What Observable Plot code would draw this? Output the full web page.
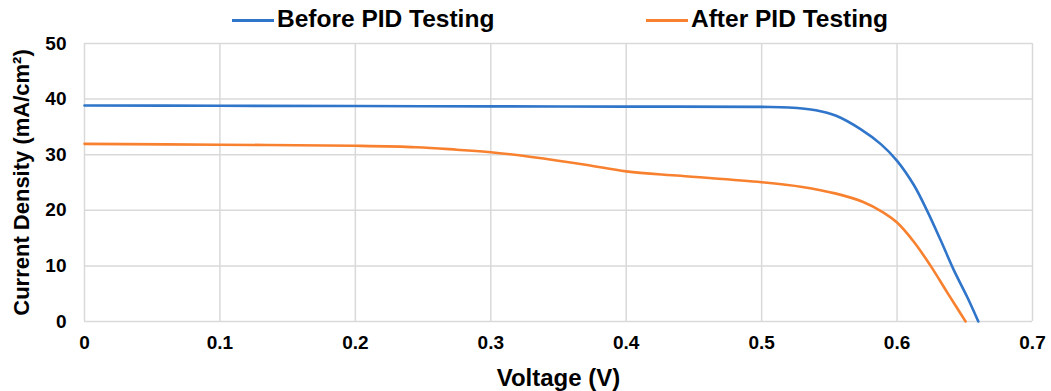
<!DOCTYPE html>
<html>
<head>
<meta charset="utf-8">
<script src="https://cdn.jsdelivr.net/npm/d3@7"></script>
<script src="https://cdn.jsdelivr.net/npm/@observablehq/plot@0.6"></script>
<style>
  html, body { margin: 0; padding: 0; background: #fff; }
  body { width: 1051px; height: 391px; overflow: hidden; font-family: "Liberation Sans", Arial, sans-serif; }
  #legend { position: relative; height: 34px; width: 1051px; }
  .item { position: absolute; top: 0; height: 34px; display: flex; align-items: center; font-weight: bold; font-size: 24.5px; color: #000; }
  .sw { width: 42px; height: 3px; margin-right: 3px; margin-top: 6px; }
  .item span { line-height: 34px; padding-top: 4px; }
  #chart svg { overflow: visible; }
</style>
</head>
<body>
<div id="legend"></div>
<div id="chart"></div>
<script>
const seriesNames = ["Before PID Testing", "After PID Testing"];
const seriesColors = ["#2f75c9", "#f8812f"];

const beforeVoltage = [0, 0.1, 0.2, 0.3, 0.4, 0.5, 0.52, 0.54, 0.555, 0.573, 0.588, 0.6, 0.6125, 0.6224, 0.6322, 0.642, 0.6518, 0.66];
const beforeCurrent = [38.85, 38.8, 38.75, 38.7, 38.65, 38.6, 38.5, 38.0, 37.0, 34.6, 31.9, 28.9, 24.5, 19.8, 14.6, 9.2, 4.4, 0];

const afterVoltage = [0, 0.1, 0.2, 0.245, 0.275, 0.3, 0.33, 0.37, 0.4, 0.44, 0.5, 0.53, 0.555, 0.575, 0.59, 0.6, 0.6125, 0.6248, 0.6371, 0.6506];
const afterCurrent = [31.95, 31.8, 31.6, 31.35, 30.9, 30.45, 29.6, 28.2, 27.0, 26.2, 25.05, 24.2, 23.0, 21.5, 19.6, 17.8, 14.3, 10.0, 5.2, 0];

const xTicks = [0, 0.1, 0.2, 0.3, 0.4, 0.5, 0.6, 0.7];
const yTicks = [0, 10, 20, 30, 40, 50];
const xTickLabels = ["0", "0.1", "0.2", "0.3", "0.4", "0.5", "0.6", "0.7"];
const yTickLabels = ["0", "10", "20", "30", "40", "50"];
const xTitle = "Voltage (V)";
const yTitle = "Current Density (mA/cm²)";

const data = [
  ...beforeVoltage.map((v, i) => ({series: seriesNames[0], v, j: beforeCurrent[i]})),
  ...afterVoltage.map((v, i) => ({series: seriesNames[1], v, j: afterCurrent[i]}))
];

// legend
const legend = document.getElementById("legend");
const legendLeft = [232, 646];
seriesNames.forEach((name, i) => {
  const it = document.createElement("div");
  it.className = "item";
  it.style.left = legendLeft[i] + "px";
  const sw = document.createElement("div");
  sw.className = "sw";
  sw.style.background = seriesColors[i];
  const t = document.createElement("span");
  t.textContent = name;
  it.appendChild(sw); it.appendChild(t);
  legend.appendChild(it);
});

const font = {fontFamily: "Liberation Sans, Arial, sans-serif", fontWeight: "bold"};

const chart = Plot.plot({
  width: 1051,
  height: 357,
  marginLeft: 84,
  marginRight: 19,
  marginTop: 9,
  marginBottom: 70,
  style: {fontFamily: "Liberation Sans, Arial, sans-serif", background: "#fff", color: "#000", overflow: "visible"},
  x: {domain: [0, 0.7]},
  y: {domain: [0, 50]},
  color: {domain: seriesNames, range: seriesColors},
  marks: [
    Plot.gridX(xTicks, {stroke: "#d9d9d9", strokeOpacity: 1, strokeWidth: 1.5}),
    Plot.gridY(yTicks, {stroke: "#d9d9d9", strokeOpacity: 1, strokeWidth: 1.5}),
    Plot.axisX(xTicks, {tickSize: 0, tickPadding: 14, fontSize: 19, ...font, tickFormat: (d, i) => xTickLabels[i], label: null}),
    Plot.axisX([], {tickSize: 0, fontSize: 24, ...font, label: xTitle, labelAnchor: "center", labelOffset: 64, labelArrow: "none"}),
    Plot.axisY(yTicks, {tickSize: 0, tickPadding: 18, fontSize: 19, ...font, tickFormat: (d, i) => yTickLabels[i], label: null}),
    Plot.axisY([], {tickSize: 0, fontSize: 22, ...font, label: yTitle, labelAnchor: "center", labelOffset: 71, labelArrow: "none"}),
    Plot.line(data, {x: "v", y: "j", z: "series", stroke: "series", strokeWidth: 2.6, curve: "catmull-rom"})
  ]
});
document.getElementById("chart").appendChild(chart);
</script>
</body>
</html>
